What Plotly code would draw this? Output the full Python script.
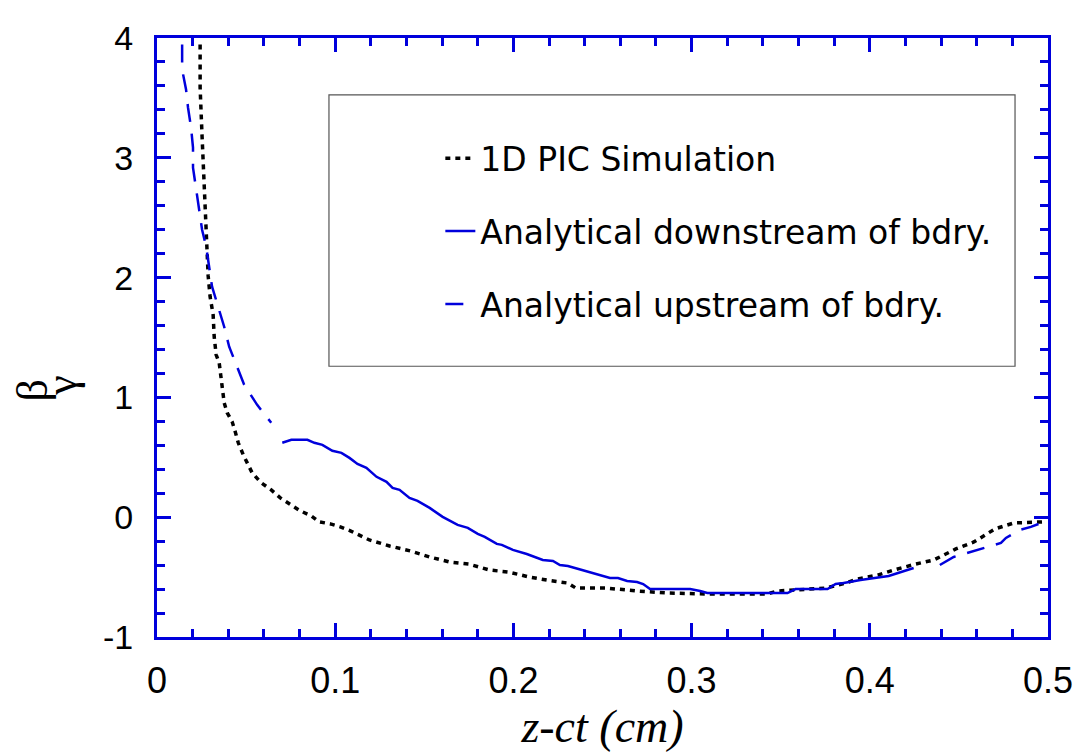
import plotly.graph_objects as go

# 1D PIC simulation (black dotted)
pic_x = [0.0242, 0.0242, 0.0253, 0.0264, 0.0276, 0.0287, 0.0287, 0.0298, 0.0315, 0.0321,
         0.0332, 0.0349, 0.0366, 0.0377, 0.0394, 0.0422, 0.0439, 0.0456, 0.0484, 0.0534,
         0.0585, 0.0641, 0.0692, 0.0748, 0.0804, 0.0866, 0.0911, 0.0973, 0.1029, 0.1085,
         0.1192, 0.1305, 0.1423, 0.1530, 0.1642, 0.1749, 0.1867, 0.1974, 0.2092, 0.2188,
         0.2306, 0.2351, 0.2525, 0.2694, 0.2863, 0.3088, 0.3425, 0.3482, 0.3751, 0.3864,
         0.3931, 0.4044, 0.4134, 0.4258, 0.4359, 0.4483, 0.4584, 0.4702, 0.4809, 0.4978]
pic_y = [3.946, 3.587, 3.177, 2.818, 2.509, 2.175, 2.016, 1.841, 1.690, 1.506,
         1.356, 1.289, 1.114, 0.955, 0.872, 0.796, 0.713, 0.621, 0.521, 0.370,
         0.287, 0.228, 0.161, 0.111, 0.053, 0.011, -0.039, -0.056, -0.081, -0.114,
         -0.190, -0.240, -0.282, -0.332, -0.374, -0.391, -0.441, -0.458, -0.500, -0.525,
         -0.550, -0.592, -0.592, -0.616, -0.633, -0.641, -0.641, -0.616, -0.592, -0.550,
         -0.516, -0.483, -0.441, -0.391, -0.357, -0.265, -0.207, -0.098, -0.048, -0.039]

# Analytical downstream of boundary (blue solid)
down_x = [0.0703, 0.0754, 0.0844, 0.0883, 0.0928, 0.0984, 0.1035, 0.1080, 0.1125, 0.1175,
          0.1232, 0.1288, 0.1322, 0.1361, 0.1417, 0.1462, 0.1530, 0.1603, 0.1687, 0.1744,
          0.1800, 0.1839, 0.1907, 0.1935, 0.1997, 0.2075, 0.2165, 0.2222, 0.2261, 0.2306,
          0.2385, 0.2441, 0.2542, 0.2587, 0.2638, 0.2694, 0.2728, 0.2767, 0.2863, 0.2992,
          0.3048, 0.3088, 0.3538, 0.3583, 0.3763, 0.3808, 0.3853, 0.3948, 0.4106, 0.4246]
down_y = [0.621, 0.646, 0.646, 0.621, 0.604, 0.554, 0.537, 0.495, 0.445, 0.412,
          0.337, 0.295, 0.245, 0.228, 0.161, 0.136, 0.078, 0.003, -0.064, -0.089,
          -0.139, -0.164, -0.223, -0.231, -0.273, -0.307, -0.357, -0.365, -0.399, -0.407,
          -0.441, -0.466, -0.508, -0.508, -0.533, -0.541, -0.558, -0.600, -0.600, -0.600,
          -0.616, -0.633, -0.633, -0.600, -0.600, -0.558, -0.550, -0.525, -0.491, -0.424]

# Analytical upstream of boundary (blue dashed), two segments
up_x = [0.0141, 0.0141, 0.0163, 0.0174, 0.0191, 0.0202, 0.0202, 0.0219, 0.0236, 0.0253,
        0.0276, 0.0292, 0.0309, 0.0343, 0.0377, 0.0405, 0.0450, 0.0489, 0.0562, 0.0641,
        None,
        0.4393, 0.4471, 0.4528, 0.4606, 0.4663, 0.4736, 0.4764, 0.4843, 0.4904, 0.4978]
up_y = [3.946, 3.737, 3.570, 3.420, 3.253, 3.085, 2.918, 2.751, 2.593, 2.400,
        2.258, 2.091, 1.924, 1.757, 1.590, 1.423, 1.256, 1.106, 0.938, 0.788,
        None,
        -0.399, -0.332, -0.307, -0.273, -0.248, -0.215, -0.173, -0.106, -0.081, -0.039]

series_names = ["1D PIC Simulation", "Analytical downstream of bdry.", "Analytical upstream of bdry."]
x_ticks = [0, 0.1, 0.2, 0.3, 0.4, 0.5]
x_tick_labels = ["0", "0.1", "0.2", "0.3", "0.4", "0.5"]
y_ticks = [-1, 0, 1, 2, 3, 4]
y_tick_labels = ["-1", "0", "1", "2", "3", "4"]

BLUE = "#0000dc"
SERIF = "Liberation Serif, Times New Roman, serif"

fig = go.Figure()
fig.add_trace(go.Scatter(x=pic_x, y=pic_y, mode="lines", name=series_names[0],
                         legendgroup="a",
                         line=dict(color="black", width=3.5, dash="5px,5px")))
fig.add_trace(go.Scatter(x=down_x, y=down_y, mode="lines", name=series_names[1],
                         legendgroup="b",
                         line=dict(color=BLUE, width=2.5)))
fig.add_trace(go.Scatter(x=up_x, y=up_y, mode="lines", name=series_names[2],
                         legendgroup="c", connectgaps=False,
                         line=dict(color=BLUE, width=2.5, dash="18px,12px")))

axis_common = dict(
    showline=True, linecolor=BLUE, linewidth=3, mirror="ticks",
    ticks="inside", tickcolor=BLUE, tickwidth=2.5, ticklen=14,
    showgrid=False, zeroline=False,
)

fig.update_xaxes(
    range=[0, 0.5], tickvals=x_ticks, ticktext=x_tick_labels,
    minor=dict(dtick=0.02, ticks="inside", ticklen=8, tickcolor=BLUE, tickwidth=2.5),
    tickfont=dict(family="Liberation Sans, Arial, sans-serif", size=36, color="black"),
    ticklabelstandoff=10,
    title=dict(text="<i>z-ct (cm)</i>", standoff=4,
               font=dict(family=SERIF, size=46, color="black")),
    **axis_common,
)
fig.update_yaxes(
    range=[-1, 4], tickvals=y_ticks, ticktext=y_tick_labels,
    minor=dict(dtick=0.2, ticks="inside", ticklen=8, tickcolor=BLUE, tickwidth=2.5),
    tickfont=dict(family="Liberation Sans, Arial, sans-serif", size=34, color="black"),
    ticklabelstandoff=14,
    **axis_common,
)

# y-axis label: beta and gamma, rotated glyphs side by side
fig.add_annotation(
    text="β", textangle=-90, xref="paper", yref="paper",
    x=-0.140, y=0.412, xanchor="center", yanchor="middle", showarrow=False,
    font=dict(family=SERIF, size=44, color="black"),
)
fig.add_annotation(
    text="γ", textangle=-90, xref="paper", yref="paper",
    x=-0.108, y=0.419, xanchor="center", yanchor="middle", showarrow=False,
    font=dict(family=SERIF, size=44, color="black"),
)

# legend frame
fig.add_shape(type="rect", xref="paper", yref="paper",
              x0=0.193, x1=0.963, y0=0.452, y1=0.905,
              line=dict(color="#555555", width=1.2), fillcolor="white", layer="below")

fig.update_layout(
    width=1080, height=747,
    margin=dict(l=149, r=40, t=30, b=118),
    paper_bgcolor="white", plot_bgcolor="white",
    showlegend=True,
    legend=dict(x=0.318, y=0.846, xanchor="left", yanchor="top",
                bgcolor="rgba(0,0,0,0)", borderwidth=0,
                tracegroupgap=27,
                font=dict(family="DejaVu Sans, sans-serif", size=33, color="black")),
)

fig.write_html("out.html")
